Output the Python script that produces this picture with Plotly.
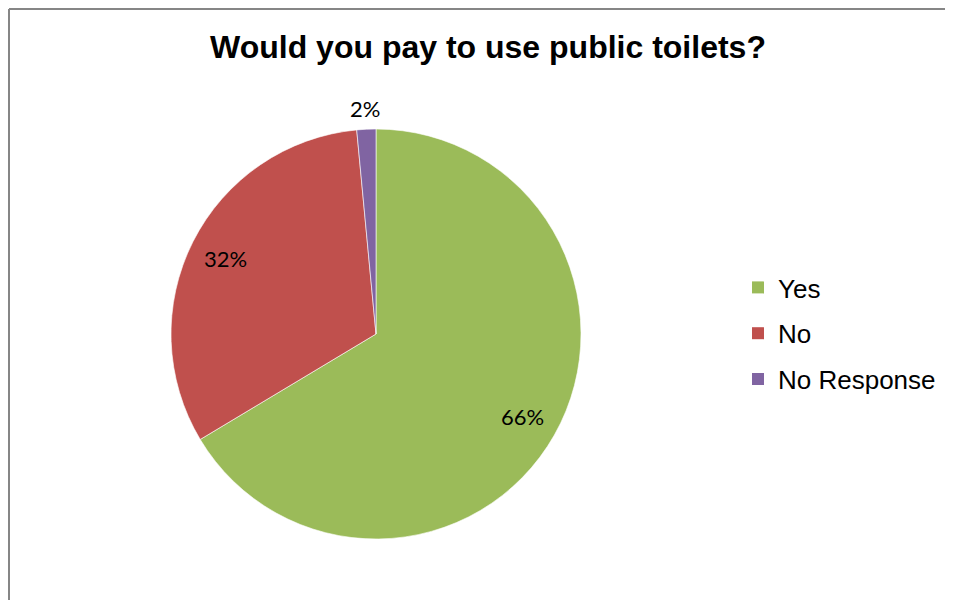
import math
import plotly.graph_objects as go

# ---- data ----
labels = ["Yes", "No", "No Response"]
values = [66.4, 32.1, 1.5]
colors = ["#9BBB59", "#C0504D", "#8064A2"]
title_text = "Would you pay to use public toilets?"

# ---- layout constants (pixels, in screenshot coords) ----
OFF = 8  # page body margin
W, H = 953, 600
CX, CY, R = 376 - OFF, 334 - OFF, 205


def px_x(x):
    return (x - OFF) / W


def px_y(y):
    return 1 - (y - OFF) / H


fig = go.Figure()
fig.add_trace(go.Pie(
    labels=labels, values=values, sort=False, direction="clockwise", rotation=0,
    marker=dict(colors=colors, line=dict(color="white", width=0.6)),
    textinfo="none", hoverinfo="label+percent", showlegend=False,
    domain=dict(x=[(CX - R) / W, (CX + R) / W], y=[1 - (CY + R) / H, 1 - (CY - R) / H]),
))

# legend entries via dummy traces
for lab, col in zip(labels, colors):
    fig.add_trace(go.Scatter(
        x=[None], y=[None], mode="markers", name=lab, legendgroup=lab,
        marker=dict(symbol="square", size=12, color=col),
    ))

# data labels placed from cumulative angles
total = sum(values)
cum = 0
annotations = []
for i, v in enumerate(values):
    mid = (cum + v / 2) / total * 2 * math.pi
    cum += v
    frac = v / total
    rf = 0.82 if frac > 0.05 else 1.1
    px = CX + rf * R * math.sin(mid)
    py = CY - rf * R * math.cos(mid)
    annotations.append(dict(
        x=px / W, y=1 - py / H, xref="paper", yref="paper", showarrow=False,
        text=f"{round(frac * 100)}%", font=dict(family="Lato, Open Sans", size=22, color="black"),
        xanchor="center", yanchor="middle",
    ))

border = dict(color="#868686", width=2)
fig.update_layout(
    width=W, height=H,
    margin=dict(l=0, r=0, t=0, b=0),
    paper_bgcolor="white", plot_bgcolor="white",
    title=dict(text=f"<b>{title_text}</b>", x=px_x(488), xanchor="center", y=px_y(47), yanchor="middle",
               font=dict(family="Liberation Sans, Arial", size=32, color="black")),
    xaxis=dict(visible=False), yaxis=dict(visible=False),
    legend=dict(x=px_x(738), y=px_y(264), xanchor="left", yanchor="top",
                font=dict(family="Liberation Sans, Arial", size=26, color="black"),
                tracegroupgap=9, itemwidth=30, bgcolor="rgba(0,0,0,0)"),
    annotations=annotations,
    shapes=[
        dict(type="line", xref="paper", yref="paper", x0=1 / W, y0=0, x1=1 / W, y1=1 - 1 / H, line=border),
        dict(type="line", xref="paper", yref="paper", x0=1 / W, y0=1 - 1 / H, x1=1, y1=1 - 1 / H, line=border),
    ],
)

fig.write_html("out.html")
